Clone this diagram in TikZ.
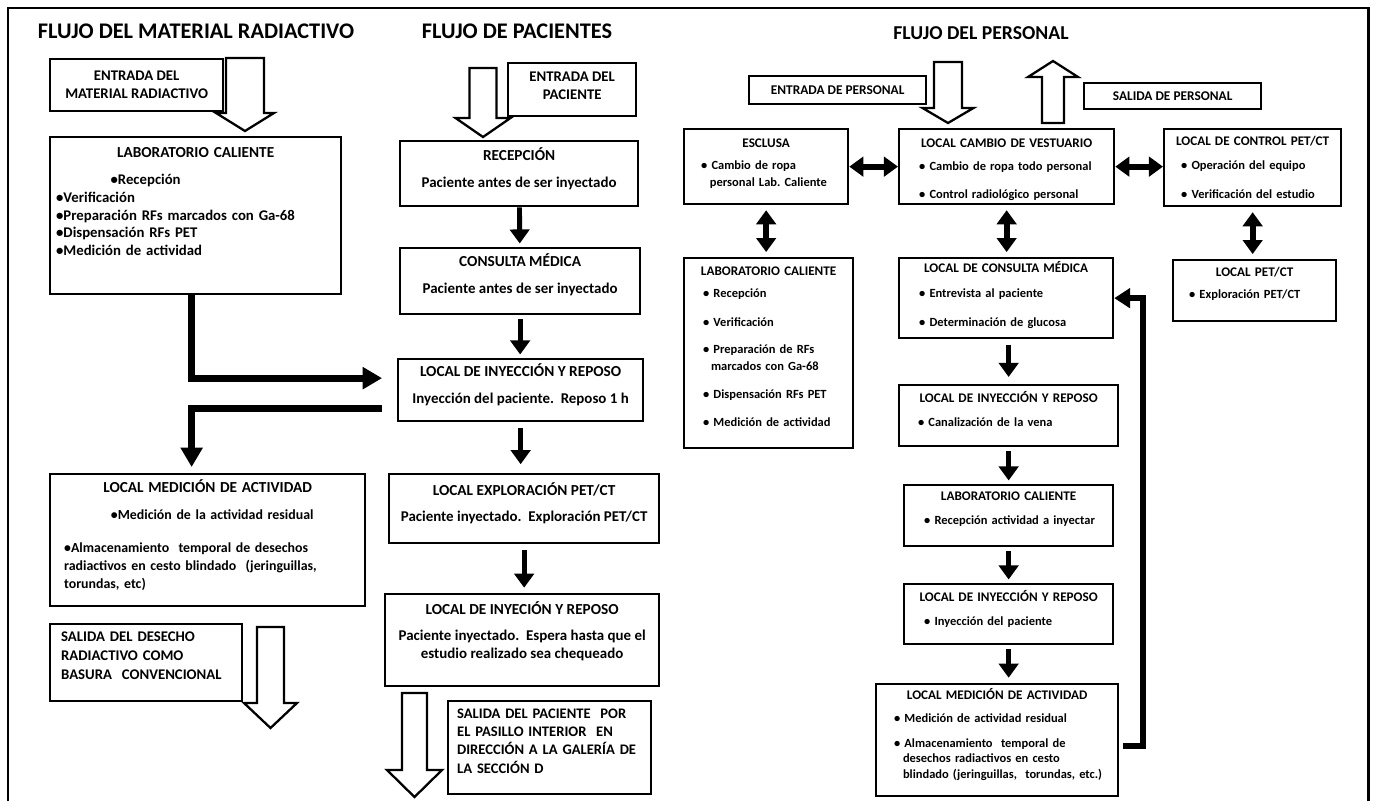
\documentclass[tikz,border=0pt]{standalone}
\usepackage{fontspec}
\setmainfont{Carlito}
\usepackage{tikz}
\usetikzlibrary{arrows.meta, positioning, calc}

\newcommand{\ttl}[1]{\makebox[\hsize][c]{\fontsize{7.5}{9}\selectfont\bfseries #1}}
\newcommand{\mttl}[1]{{\fontsize{8.7}{10}\selectfont\bfseries #1}}

\tikzset{
  pics/hollowarrow/.style n args={4}{code={
    \draw[hollow] (-#1,0) -- (#1,0) -- (#1,#3) -- (#2,#3) -- (0,#4) -- (-#2,#3) -- (-#1,#3) -- cycle;
  }}
}

\begin{document}
\begin{tikzpicture}[
    x=0.02cm, y=-0.02cm,
    box/.style={draw, line width=1.3pt, inner xsep=0pt, inner ysep=2pt, anchor=north west},
    boxsize/.style 2 args={minimum width=#1*0.02cm, minimum height=#2*0.02cm},
    head/.style={font=\fontsize{12.7}{15}\selectfont\bfseries},
    mat/.style={font=\fontsize{8.5}{10.2}\selectfont\bfseries},
    matb/.style={font=\fontsize{8.4}{10.2}\selectfont\bfseries},
    per/.style={font=\fontsize{7.1}{9.6}\selectfont\bfseries},
    flow/.style={line width=2.8pt, -{Triangle[width=11pt,length=8pt]}},
    bigflow/.style={line width=4pt, -{Triangle[width=12pt,length=11pt]}},
    both/.style={line width=3.4pt, {Triangle[width=11pt,length=8pt]}-{Triangle[width=11pt,length=8pt]}},
    hollow/.style={draw, line width=1.3pt, fill=white, line join=miter}
  ]
  \useasboundingbox (0,0) rectangle (1375,801);
  \draw[line width=1.7pt] (8,801) -- (8,8) -- (1368,8) -- (1368,801);

  % Titles
  \node[head] (ttlm) at (196,31) {FLUJO DEL MATERIAL RADIACTIVO};
  \node[head] (ttlp) at (517,31) {FLUJO DE PACIENTES};
  \node[head, font=\fontsize{11.2}{14}\selectfont\bfseries] (ttle) at (981,33) {FLUJO DEL PERSONAL};

  % Material radiactivo
  \node[box, boxsize={173}{52}, matb, align=center] (entm) at (49,58) {ENTRADA DEL\\MATERIAL RADIACTIVO};
  \node[box, boxsize={291}{157}, matb, text width=279*0.02cm, align=left] (labm) at (49,136) {\makebox[\hsize][c]{\mttl{LABORATORIO CALIENTE}}\\[5.1pt]
    \hspace*{31pt}•Recepción\\
    •Verificación\\
    •Preparación RFs marcados con Ga-68\\
    •Dispensación RFs PET\\
    •Medición de actividad\rule[-16pt]{0pt}{16pt}};
  \node[box, boxsize={315}{132}, font=\fontsize{7.9}{10.2}\selectfont\bfseries, text width=287*0.02cm, align=left] (medm) at (49,473) {\makebox[\hsize][c]{\mttl{LOCAL MEDICIÓN DE ACTIVIDAD}}\\[5.1pt]
    \hspace*{26.6pt}•Medición de la actividad residual\\[8.5pt]
    •Almacenamiento\ \ temporal de desechos\\
    radiactivos en cesto blindado\ \ (jeringuillas,\\
    torundas, etc)\rule[-7pt]{0pt}{7pt}};
  \node[box, boxsize={192}{77}, font=\fontsize{8.4}{10.8}\selectfont\bfseries, text width=170*0.02cm, align=left] (salm) at (49,623) {\mbox{SALIDA DEL DESECHO}\\\mbox{RADIACTIVO COMO}\\\mbox{BASURA\ \ CONVENCIONAL}\rule[-8pt]{0pt}{8pt}};

  % Pacientes
  \node[box, boxsize={128}{53}, matb, align=center] (entp) at (507,62) {ENTRADA DEL\\PACIENTE\rule[-4pt]{0pt}{4pt}};
  \node[box, boxsize={238}{65}, mat, align=center] (recep) at (399,140) {\mttl{RECEPCIÓN}\\[5.1pt]Paciente antes de ser inyectado\rule[-7pt]{0pt}{7pt}};
  \node[box, boxsize={240}{66}, mat, align=center] (consm) at (399,247) {\mttl{CONSULTA MÉDICA}\\[5.1pt]Paciente antes de ser inyectado\rule[-8.5pt]{0pt}{8.5pt}};
  \node[box, boxsize={245}{62}, mat, align=center] (inym) at (397,358) {\mttl{LOCAL DE INYECCIÓN Y REPOSO}\\[5.1pt]Inyección del paciente.\ \ Reposo 1 h\rule[-7pt]{0pt}{7pt}};
  \node[box, boxsize={270}{69}, mat, align=center] (expl) at (388,473) {\mttl{LOCAL EXPLORACIÓN PET/CT}\\[5.1pt]Paciente inyectado.\ \ Exploración PET/CT\rule[-7.5pt]{0pt}{7.5pt}};
  \node[box, boxsize={274}{92}, mat, align=center] (iny2) at (384,593) {\mttl{LOCAL DE INYECIÓN Y REPOSO}\\[5.1pt]Paciente inyectado.\ \ Espera hasta que el\\estudio realizado sea chequeado\rule[-11.5pt]{0pt}{11.5pt}};
  \node[box, boxsize={203}{93}, font=\fontsize{8.3}{10.4}\selectfont\bfseries, text width=185*0.02cm, align=left] (salp) at (447,700) {\mbox{SALIDA DEL PACIENTE\ \ POR}\\\mbox{EL PASILLO INTERIOR\ \ EN}\\\mbox{DIRECCIÓN A LA GALERÍA DE}\\\mbox{LA SECCIÓN D}\rule[-7.5pt]{0pt}{7.5pt}};

  % Personal
  \node[box, boxsize={177}{28}, font=\fontsize{7.6}{9}\selectfont\bfseries] (entpe) at (748,75) {ENTRADA DE PERSONAL};
  \node[box, boxsize={177}{26}, font=\fontsize{7.6}{9}\selectfont\bfseries] (salpe) at (1083,82) {SALIDA DE PERSONAL};
  \node[box, boxsize={164}{75}, per, text width=144*0.02cm, align=left] (escl) at (683,128) {\ttl{ESCLUSA}\\[3.4pt]
    \hspace*{4pt}•\ Cambio de ropa\\
    \hspace*{9pt}personal Lab.\ Caliente\rule[-4.5pt]{0pt}{4.5pt}};
  \node[box, boxsize={215}{75}, per, text width=195*0.02cm, align=left] (vest) at (898,128) {\rule{0pt}{8.5pt}\ttl{LOCAL CAMBIO DE VESTUARIO}\\[3.4pt]
    \hspace*{5.7pt}•\ Cambio de ropa todo personal\\[6.3pt]
    \hspace*{5.7pt}•\ Control radiológico personal};
  \node[box, boxsize={177}{77}, per, text width=157*0.02cm, align=left] (ctrl) at (1163,128) {\ttl{LOCAL DE CONTROL PET/CT}\\[4pt]
    \hspace*{4pt}•\ Operación del equipo\\[6.8pt]
    \hspace*{4pt}•\ Verificación del estudio};
  \node[box, boxsize={163}{61}, per, text width=143*0.02cm, align=left] (petct) at (1172,259) {\ttl{LOCAL PET/CT}\\[3.4pt]
    \hspace*{3.4pt}•\ Exploración PET/CT\rule[-8.8pt]{0pt}{8.8pt}};
  \node[box, boxsize={169}{190}, per, text width=149*0.02cm, align=left] (labp) at (683,257) {\ttl{LABORATORIO CALIENTE}\\[2.9pt]
    \hspace*{5.1pt}•\ Recepción\\[7.4pt]
    \hspace*{5.1pt}•\ Verificación\\[5.7pt]
    \hspace*{5.1pt}•\ Preparación de RFs\\
    \hspace*{9.6pt}marcados con Ga-68\\[6.3pt]
    \hspace*{5.1pt}•\ Dispensación RFs PET\\[6.3pt]
    \hspace*{5.1pt}•\ Medición de actividad\rule[-7.5pt]{0pt}{7.5pt}};
  \node[box, boxsize={214}{80}, per, text width=194*0.02cm, align=left] (consp) at (898,257) {\ttl{LOCAL DE CONSULTA MÉDICA}\\[4.6pt]
    \hspace*{5.7pt}•\ Entrevista al paciente\\[6.8pt]
    \hspace*{5.7pt}•\ Determinación de glucosa\rule[-4.5pt]{0pt}{4.5pt}};
  \node[box, boxsize={219}{61}, per, text width=199*0.02cm, align=left] (inyp) at (898,384) {\ttl{LOCAL DE INYECCIÓN Y REPOSO}\\[4pt]
    \hspace*{5.1pt}•\ Canalización de la vena\rule[-8pt]{0pt}{8pt}};
  \node[box, boxsize={209}{61}, per, text width=189*0.02cm, align=left] (labp2) at (903,484) {\ttl{LABORATORIO CALIENTE}\\[4pt]
    \hspace*{5.7pt}•\ Recepción actividad a inyectar\rule[-8pt]{0pt}{8pt}};
  \node[box, boxsize={209}{60}, per, text width=189*0.02cm, align=left] (inyp2) at (903,583) {\ttl{LOCAL DE INYECCIÓN Y REPOSO}\\[4pt]
    \hspace*{5.7pt}•\ Inyección del paciente\rule[-7.5pt]{0pt}{7.5pt}};
  \node[box, boxsize={242}{112}, font=\fontsize{7.1}{9.1}\selectfont\bfseries, text width=222*0.02cm, align=left] (medp) at (875,683) {\ttl{LOCAL MEDICIÓN DE ACTIVIDAD}\\[3.9pt]
    \hspace*{4.5pt}•\ Medición de actividad residual\\[5.1pt]
    \hspace*{4.5pt}•\ Almacenamiento\ \ temporal de\\
    \hspace*{9.6pt}desechos radiactivos en cesto\\
    \hspace*{9.6pt}\mbox{blindado (jeringuillas,\ \ torundas, etc.)}\rule[-7.5pt]{0pt}{7.5pt}};

  % Entradas y salidas
  \pic at (245,58) {hollowarrow={19}{29}{55}{73}};
  \pic at (270.5,627) {hollowarrow={13.5}{26.5}{76}{101}};
  \pic at (483,68) {hollowarrow={13.5}{27.5}{50}{69}};
  \pic at (414.5,693) {hollowarrow={12.5}{27.5}{77}{104}};
  \pic at (948,62) {hollowarrow={14}{25.5}{46}{61}};
  \pic at (1053,123) {hollowarrow={11}{25}{-46}{-62}};

  % Arrows
  \draw[bigflow, shorten >=8.5pt] ($(labm.south)+(-4,0)$) |- ($(inym.west)+(0,-12)$);
  \draw[bigflow, shorten <=8.5pt, shorten >=3.4pt] ($(inym.west)+(0,18)$) -| ($(medm.north)+(-16,0)$);
  \draw[flow, shorten >=2pt] (recep) -- (consm);
  \draw[flow, shorten <=2pt, shorten >=2pt] (consm.south) -- (consm.south |- inym.north);
  \draw[flow, shorten <=3pt, shorten >=5pt] (inym.south) -- (inym.south |- expl.north);
  \draw[flow, shorten <=3pt, shorten >=3pt] (expl.south) -- (expl.south |- iny2.north);

  \draw[both] (escl.east) -- (vest.west);
  \draw[both] (vest.east) -- (vest.east -| ctrl.west);
  \draw[both, shorten <=2.8pt, shorten >=2.8pt] (escl.south) -- (escl.south |- labp.north);
  \draw[both, shorten <=2.8pt, shorten >=2.8pt] (vest.south) -- (vest.south |- consp.north);
  \draw[both, shorten <=2.8pt, shorten >=2.8pt] (ctrl.south) -- (ctrl.south |- petct.north);
  \draw[flow, shorten <=3pt, shorten >=4pt] (consp.south -| inyp.north) -- (inyp.north);
  \draw[flow, shorten <=2pt, shorten >=2pt] (inyp.south -| labp2.north) -- (labp2.north);
  \draw[flow, shorten <=2pt, shorten >=2pt] (labp2.south) -- (inyp2.north);
  \draw[flow, shorten <=2pt, shorten >=3pt] (inyp2.south) -- (inyp2.south |- medp.north);
  \draw[line width=3.4pt, -{Triangle[width=11pt,length=9pt]}, shorten <=2pt] ($(medp.east)+(0,6)$) -- ++(24,0) |- (consp.east);
\end{tikzpicture}
\end{document}
